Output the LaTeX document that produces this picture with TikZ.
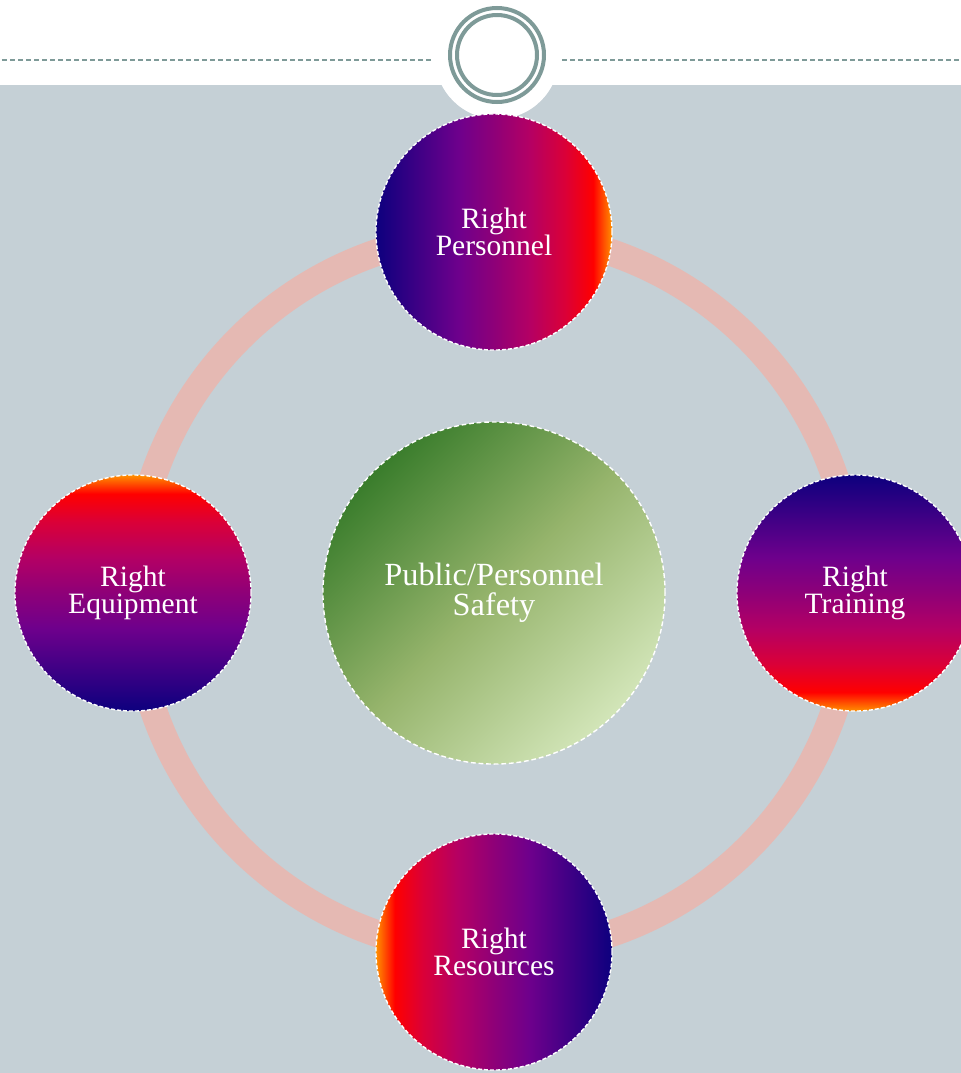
\documentclass[tikz,border=0pt]{standalone}
\usepackage{fontspec}
\setmainfont{Liberation Serif}
\usetikzlibrary{positioning}
\usepackage{xcolor}

\definecolor{bggrey}{RGB}{197,208,214}
\definecolor{ringteal}{RGB}{126,154,152}
\definecolor{ringpink}{RGB}{229,185,179}
\definecolor{navyc}{RGB}{13,0,126}
\definecolor{purplec}{RGB}{110,0,140}
\definecolor{plumc}{RGB}{142,0,120}
\definecolor{berryc}{RGB}{180,0,100}
\definecolor{crimsonc}{RGB}{218,0,56}
\definecolor{redc}{RGB}{255,0,0}
\definecolor{orangec}{RGB}{255,144,0}
\definecolor{leafdark}{RGB}{58,125,44}
\definecolor{leafmid}{RGB}{150,180,108}
\definecolor{leafpale}{RGB}{210,229,184}

\pgfdeclarehorizontalshading{hotband}{100bp}{color(0bp)=(navyc); color(25bp)=(navyc); color(42.5bp)=(purplec); color(50bp)=(plumc); color(57.5bp)=(berryc); color(65bp)=(crimsonc); color(71bp)=(redc); color(75bp)=(orangec); color(100bp)=(orangec)}

\tikzset{
  hotdisc/.style={circle, minimum size=5.9cm, inner sep=0pt, shading=hotband,
    draw=white, line width=0.035cm, dash pattern=on 0.1cm off 0.05cm,
    text=white, align=center, font=\fontsize{21}{19.6}\selectfont},
  safedisc/.style={circle, minimum size=8.55cm, inner sep=0pt,
    top color=leafdark, bottom color=leafpale, middle color=leafmid, shading angle=45,
    draw=white, line width=0.035cm, dash pattern=on 0.12cm off 0.07cm,
    text=white, align=center, font=\fontsize{23}{21}\selectfont}
}

\begin{document}
\begin{tikzpicture}[x=0.025cm, y=-0.025cm]
  \useasboundingbox (0,0) rectangle (961,1073);
  \clip (0,0) rectangle (961,1073);

  % background
  \fill[white] (0,0) rectangle (961,1073);
  \fill[bggrey] (0,85) rectangle (961,1073);
  \fill[white] (497,57) circle (62);

  % header
  \draw[ringteal, line width=0.05cm, dash pattern=on 0.125cm off 0.075cm] (2,60) -- (432,60);
  \draw[ringteal, line width=0.05cm, dash pattern=on 0.125cm off 0.075cm] (562,60) -- (961,60);
  \draw[ringteal, line width=0.1cm] (497,55) circle (47);
  \draw[ringteal, line width=0.1cm] (497,55) circle (40);

  % ring
  \draw[ringpink, line width=0.675cm] (494,593) circle (360);

  % discs
  \node[safedisc] (safety) at (494,593) {Public/Personnel\\Safety};
  \node[hotdisc, shading angle=0] (personnel) at (494,232) {Right\\Personnel};
  \node[hotdisc, shading angle=-90] (training) at (855,593) {Right\\Training};
  \node[hotdisc, shading angle=180] (resources) at (494,952) {Right\\Resources};
  \node[hotdisc, shading angle=90] (equipment) at (133,593) {Right\\Equipment};
\end{tikzpicture}
\end{document}
